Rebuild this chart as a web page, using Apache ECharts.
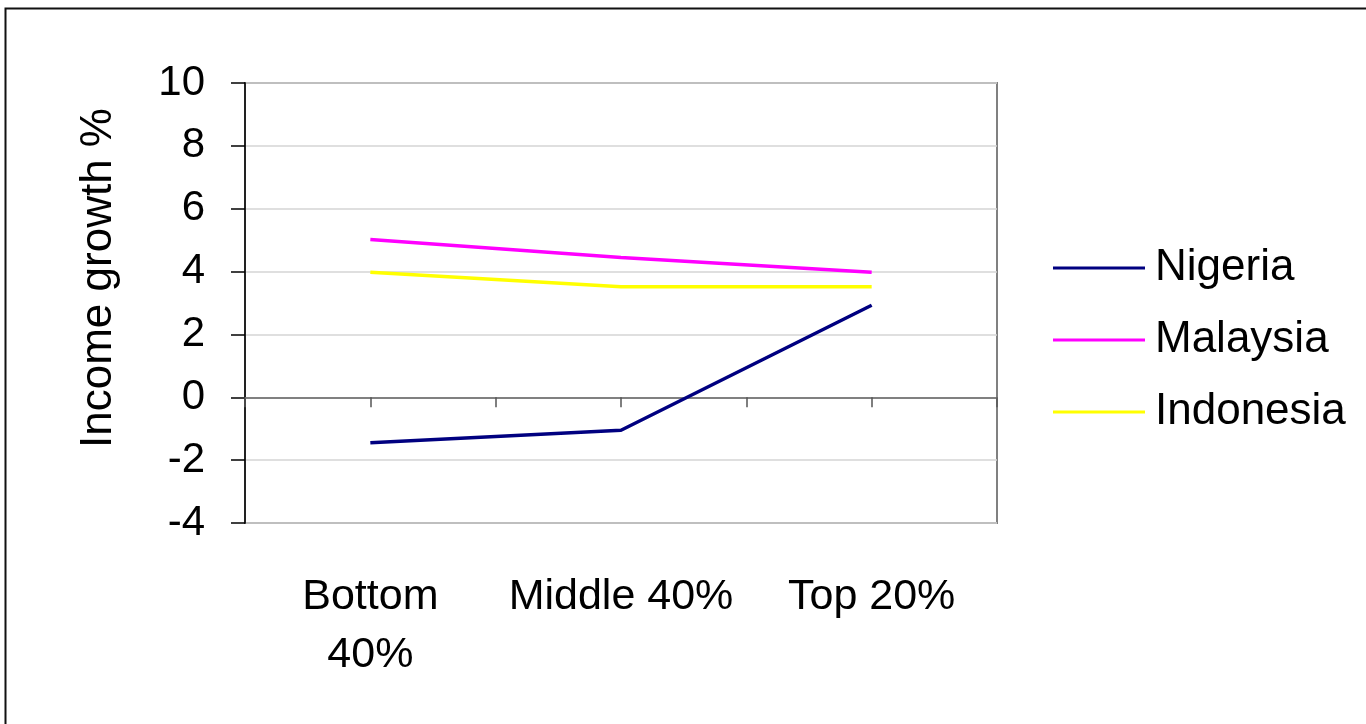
<!DOCTYPE html>
<html>
<head>
<meta charset="utf-8">
<script src="https://cdn.jsdelivr.net/npm/echarts@6/dist/echarts.min.js"></script>
<style>
html,body{margin:0;padding:0;background:#fff;}
#chart{width:1366px;height:724px;}
</style>
</head>
<body>
<div id="chart"></div>
<script>
const categories = ['Bottom\n40%', 'Middle 40%', 'Top 20%'];
const nigeria = [-1.45, -1.05, 2.93];
const malaysia = [5.02, 4.45, 3.98];
const indonesia = [3.98, 3.52, 3.52];
const yTicks = { min: -4, max: 10, interval: 2 };

const FONT = 'Liberation Sans, Arial, sans-serif';
const chart = echarts.init(document.getElementById('chart'), null, { renderer: 'canvas' });

const option = {
  backgroundColor: '#fff',
  animation: false,
  graphic: [{
    type: 'rect',
    left: 3, top: 6,
    shape: { width: 1400, height: 760 },
    style: { fill: 'none', stroke: '#111', lineWidth: 2 },
    silent: true
  }],
  grid: {
    left: 245, right: 369, top: 83, bottom: 201,
    show: true, borderColor: '#808080', borderWidth: 2, backgroundColor: '#fff'
  },
  legend: {
    orient: 'vertical',
    left: 1053, top: 243, padding: 0,
    icon: 'rect',
    itemWidth: 92, itemHeight: 3, itemGap: 22,
    textStyle: { fontFamily: FONT, fontSize: 44, color: '#000', lineHeight: 50, padding: [0, 0, 0, 5] },
    data: ['Nigeria', 'Malaysia', 'Indonesia']
  },
  xAxis: [
    {
      type: 'category', data: categories, position: 'bottom', boundaryGap: true,
      axisLine: { show: false, onZero: false },
      axisTick: { show: false },
      axisLabel: { fontFamily: FONT, fontSize: 43, color: '#000', margin: 45, lineHeight: 58, interval: 0 },
      splitLine: { show: false }
    },
    {
      type: 'category', data: categories, position: 'bottom', boundaryGap: true,
      axisLine: { show: true, onZero: true, onZeroAxisIndex: 0, lineStyle: { color: '#808080', width: 2 } },
      axisTick: { show: true, alignWithLabel: false, length: 10, lineStyle: { color: '#555', width: 1.5 }, interval: 0 },
      axisLabel: { show: false },
      splitLine: { show: false }
    },
    {
      type: 'category', data: categories, position: 'bottom', boundaryGap: true,
      axisLine: { show: false, onZero: true, onZeroAxisIndex: 0 },
      axisTick: { show: true, alignWithLabel: true, length: 10, lineStyle: { color: '#555', width: 1.5 }, interval: 0 },
      axisLabel: { show: false },
      splitLine: { show: false }
    }
  ],
  yAxis: {
    type: 'value',
    min: yTicks.min, max: yTicks.max, interval: yTicks.interval,
    name: 'Income growth %',
    nameLocation: 'middle',
    nameGap: 124,
    nameTextStyle: { fontFamily: FONT, fontSize: 44, color: '#000', padding: [0, 0, 0, 50] },
    axisLine: { show: true, onZero: false, lineStyle: { color: '#222', width: 2 } },
    axisTick: { show: true, inside: false, length: 14, lineStyle: { color: '#000', width: 1.5 } },
    axisLabel: { fontFamily: FONT, fontSize: 42, color: '#000', margin: 40 },
    splitLine: { show: true, lineStyle: { color: '#d4d4d4', width: 1.5 } }
  },
  series: [
    { name: 'Nigeria', type: 'line', data: nigeria, symbol: 'none', lineStyle: { color: '#000080', width: 3.5 }, itemStyle: { color: '#000080' } },
    { name: 'Malaysia', type: 'line', data: malaysia, symbol: 'none', lineStyle: { color: '#FF00FF', width: 3.5 }, itemStyle: { color: '#FF00FF' } },
    { name: 'Indonesia', type: 'line', data: indonesia, symbol: 'none', lineStyle: { color: '#FFFF00', width: 3.5 }, itemStyle: { color: '#FFFF00' } }
  ]
};
chart.setOption(option);
</script>
</body>
</html>
